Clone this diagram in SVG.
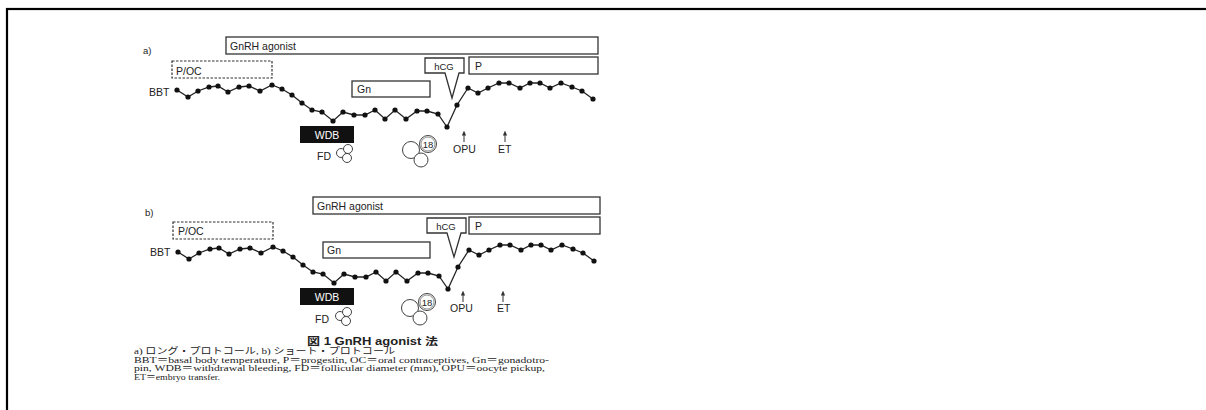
<svg xmlns="http://www.w3.org/2000/svg" xmlns:xlink="http://www.w3.org/1999/xlink" width="1206" height="410" viewBox="0 0 1206 410">
<style>
.frame{fill:none;stroke:#000;stroke-width:2.2}
.box{fill:#fff;stroke:#333;stroke-width:1.3}
.dash{fill:#fff;stroke:#333;stroke-width:1.2;stroke-dasharray:2.5 1.5}
.lbl{font-family:"Liberation Sans",Arial,sans-serif;font-size:10.5px;fill:#222}
.sm{font-family:"Liberation Sans",Arial,sans-serif;font-size:9.5px;fill:#222}
.wlbl{font-family:"Liberation Sans",Arial,sans-serif;font-size:10.5px;fill:#fff}
.line{fill:none;stroke:#222;stroke-width:1.3}
.dot{fill:#111}
.circ{fill:#fff;stroke:#444;stroke-width:1}
.arr{stroke:#333;stroke-width:1;fill:none}
.cap{font-family:"Liberation Serif","Noto Sans CJK JP",serif;font-size:9px;fill:#222}
.capb{font-family:"Liberation Sans","Noto Sans CJK JP",sans-serif;font-size:10.5px;font-weight:bold;fill:#222}
</style>
<defs>
<marker id="ah" viewBox="0 0 6 6" refX="3" refY="3" markerWidth="5" markerHeight="5" orient="auto">
<path d="M0,0.5 L6,3 L0,5.5 Z" fill="#333"/>
</marker>
<g id="bbtCurve">
<polyline class="line" points="177,90 188,97 198,91 209,87 218,86 228,92 239,87 249,86 260,91 272,85 282,89 292,95 302,103 312,110 322,112 333,121 343,112 354,115 365,115 375,110 385,119 395,110 406,119 417,111 427,111 438,114 447,127 457,105 468,88 478,93 488,88 499,83 509,83 520,88 530,83 540,83 550,88 561,83 572,87 582,91 593,99"/>
<g class="dot">
<circle cx="177" cy="90" r="2.6"/><circle cx="188" cy="97" r="2.6"/><circle cx="198" cy="91" r="2.6"/><circle cx="209" cy="87" r="2.6"/><circle cx="218" cy="86" r="2.6"/><circle cx="228" cy="92" r="2.6"/><circle cx="239" cy="87" r="2.6"/><circle cx="249" cy="86" r="2.6"/><circle cx="260" cy="91" r="2.6"/><circle cx="272" cy="85" r="2.6"/><circle cx="282" cy="89" r="2.6"/><circle cx="292" cy="95" r="2.6"/><circle cx="302" cy="103" r="2.6"/><circle cx="312" cy="110" r="2.6"/><circle cx="322" cy="112" r="2.6"/><circle cx="333" cy="121" r="2.6"/><circle cx="343" cy="112" r="2.6"/><circle cx="354" cy="115" r="2.6"/><circle cx="365" cy="115" r="2.6"/><circle cx="375" cy="110" r="2.6"/><circle cx="385" cy="119" r="2.6"/><circle cx="395" cy="110" r="2.6"/><circle cx="406" cy="119" r="2.6"/><circle cx="417" cy="111" r="2.6"/><circle cx="427" cy="111" r="2.6"/><circle cx="438" cy="114" r="2.6"/><circle cx="447" cy="127" r="2.6"/><circle cx="457" cy="105" r="2.6"/><circle cx="468" cy="88" r="2.6"/><circle cx="478" cy="93" r="2.6"/><circle cx="488" cy="88" r="2.6"/><circle cx="499" cy="83" r="2.6"/><circle cx="509" cy="83" r="2.6"/><circle cx="520" cy="88" r="2.6"/><circle cx="530" cy="83" r="2.6"/><circle cx="540" cy="83" r="2.6"/><circle cx="550" cy="88" r="2.6"/><circle cx="561" cy="83" r="2.6"/><circle cx="572" cy="87" r="2.6"/><circle cx="582" cy="91" r="2.6"/><circle cx="593" cy="99" r="2.6"/>
</g>
</g>
<g id="fdIcon">
<circle class="circ" cx="341" cy="153" r="4.5"/>
<circle class="circ" cx="348" cy="149" r="4.5"/>
<circle class="circ" cx="347" cy="158" r="4.5"/>
</g>
<g id="f18Icon">
<circle class="circ" cx="411" cy="150" r="8.5"/>
<circle class="circ" cx="421" cy="160" r="7"/>
<circle class="circ" cx="428" cy="144" r="8.5"/>
<circle fill="none" stroke="#666" stroke-width="0.7" cx="428" cy="144" r="7"/>
<text class="sm" x="428" y="147.5" text-anchor="middle" font-size="9">18</text>
</g>
</defs>
<rect class="frame" x="7" y="9" width="1210" height="410"/>

<g id="panel-a">
<text class="sm" x="143" y="54">a)</text>
<g id="a-gnrh"><rect class="box" x="226" y="37" width="372" height="17"/><text class="lbl" x="230" y="50">GnRH agonist</text></g>
<g id="a-poc"><rect class="dash" x="172" y="61" width="100" height="17"/><text class="lbl" x="176" y="75">P/OC</text></g>
<g id="a-gn"><rect class="box" x="352" y="81" width="78" height="16"/><text class="lbl" x="357" y="93">Gn</text></g>
<g id="a-hcg"><path class="box" d="M425,58 H464 V73 H459 L452,98 L445,73 H425 Z"/><text class="sm" x="444" y="70" text-anchor="middle">hCG</text></g>
<g id="a-p"><rect class="box" x="469" y="57" width="129" height="17"/><text class="lbl" x="475" y="70">P</text></g>
<g id="a-bbt"><text class="lbl" x="149" y="96">BBT</text><use xlink:href="#bbtCurve"/></g>
<g id="a-wdb"><rect x="300" y="126" width="54" height="17" fill="#111"/><text class="wlbl" x="327" y="139" text-anchor="middle">WDB</text></g>
<g id="a-fd"><text class="lbl" x="317" y="160">FD</text><use xlink:href="#fdIcon"/></g>
<g id="a-18"><use xlink:href="#f18Icon"/></g>
<g id="a-opu"><text class="lbl" x="453" y="153">OPU</text></g>
<g id="a-et"><text class="lbl" x="498" y="153">ET</text></g>
</g>

<g id="panel-b">
<text class="sm" x="145" y="216">b)</text>
<g id="b-gnrh"><rect class="box" x="313" y="197" width="287" height="17"/><text class="lbl" x="317" y="210">GnRH agonist</text></g>
<g id="b-poc"><rect class="dash" x="173" y="222" width="100" height="17"/><text class="lbl" x="178" y="235">P/OC</text></g>
<g id="b-gn"><rect class="box" x="323" y="242" width="107" height="16"/><text class="lbl" x="327" y="254">Gn</text></g>
<g id="b-hcg"><path class="box" d="M427,218 H466 V233 H461 L454,257 L447,233 H427 Z"/><text class="sm" x="446" y="230" text-anchor="middle">hCG</text></g>
<g id="b-p"><rect class="box" x="469" y="217" width="131" height="17"/><text class="lbl" x="475" y="230">P</text></g>
<g id="b-bbt"><text class="lbl" x="150" y="256">BBT</text><use xlink:href="#bbtCurve" transform="translate(1,162)"/></g>
<g id="b-wdb"><rect x="300" y="288" width="54" height="17" fill="#111"/><text class="wlbl" x="327" y="301" text-anchor="middle">WDB</text></g>
<g id="b-fd"><text class="lbl" x="315" y="323">FD</text><use xlink:href="#fdIcon" transform="translate(-1,163)"/></g>
<g id="b-18"><use xlink:href="#f18Icon" transform="translate(-1,158)"/></g>
<g id="b-opu"><text class="lbl" x="450" y="312">OPU</text></g>
<g id="b-et"><text class="lbl" x="497" y="312">ET</text></g>
</g>

<g id="connectors">
<line class="arr" x1="464" y1="142" x2="464" y2="133" marker-end="url(#ah)"/>
<line class="arr" x1="505" y1="142" x2="505" y2="133" marker-end="url(#ah)"/>
<line class="arr" x1="463" y1="302" x2="463" y2="293" marker-end="url(#ah)"/>
<line class="arr" x1="503" y1="302" x2="503" y2="293" marker-end="url(#ah)"/>
</g>

<g id="caption">
<text class="capb" x="307" y="345" textLength="131" lengthAdjust="spacingAndGlyphs">図 1  GnRH agonist 法</text>
<text class="cap" x="134" y="354" textLength="261" lengthAdjust="spacingAndGlyphs">a) ロング・プロトコール, b) ショート・プロトコール</text>
<text class="cap" x="134" y="362.5" textLength="415" lengthAdjust="spacingAndGlyphs">BBT＝basal body temperature, P＝progestin, OC＝oral contraceptives, Gn＝gonadotro-</text>
<text class="cap" x="134" y="371" textLength="411" lengthAdjust="spacingAndGlyphs">pin, WDB＝withdrawal bleeding, FD＝follicular diameter (mm), OPU＝oocyte pickup,</text>
<text class="cap" x="134" y="379.5" textLength="86" lengthAdjust="spacingAndGlyphs">ET＝embryo transfer.</text>
</g>
</svg>
